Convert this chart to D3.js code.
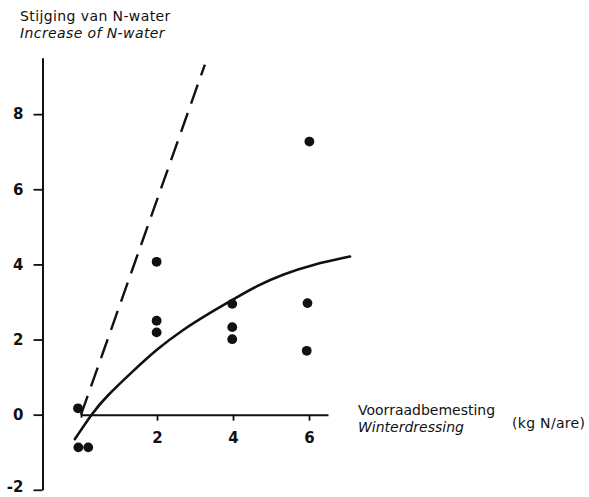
<!DOCTYPE html>
<html>
<head>
<meta charset="utf-8">
<script src="https://cdn.jsdelivr.net/npm/d3@7/dist/d3.min.js"></script>
<style>
  html, body { margin: 0; padding: 0; background: #fff; }
  svg { display: block; }
  text { font-family: "DejaVu Sans", sans-serif; fill: #111; }
</style>
</head>
<body>
<svg id="chart" width="589" height="497"></svg>
<script>
// ---- data ----
const pointX = [-0.08, 0.19, -0.07, 1.99, 1.99, 1.99, 3.98, 3.98, 3.98, 6.01, 5.96, 5.94];
const pointY = [0.17, -0.87, -0.87, 4.07, 2.50, 2.19, 2.95, 2.33, 2.01, 7.27, 2.97, 1.70];

const curveX = [-0.16, 0.30, 0.67, 1.38, 1.99, 2.69, 3.39, 4.01, 4.62, 5.32, 6.11, 7.08];
const curveY = [-0.65, 0.05, 0.49, 1.17, 1.74, 2.27, 2.71, 3.07, 3.43, 3.74, 4.00, 4.21];

const dashX = [0.00, 3.26];
const dashY = [0.00, 9.32];

const xTicks = [0, 2, 4, 6];
const xTickLabels = ["", "2", "4", "6"];
const yTicks = [-2, 0, 2, 4, 6, 8];

const yTitle = ["Stijging van N-water", "Increase of N-water"];
const xTitle = ["Voorraadbemesting", "Winterdressing"];
const xUnit = "(kg N/are)";

// ---- layout ----
const svg = d3.select("#chart");
const x = d3.scaleLinear().domain([0, 6.5]).range([81, 328]);
const y = d3.scaleLinear().domain([-2, 9.5]).range([489.8, 57.8]);
const numFont = "'Liberation Sans Narrow', 'DejaVu Sans Condensed', sans-serif";

// y axis
const yAxis = d3.axisLeft(y).tickValues(yTicks).tickSize(9).tickSizeOuter(0).tickPadding(10)
  .tickFormat(d => d < 0 ? "-" + Math.abs(d) : String(d));
const gy = svg.append("g").attr("transform", "translate(42.5,0)").call(yAxis);
gy.select(".domain").attr("stroke", "#111").attr("stroke-width", 2);
gy.selectAll(".tick line").attr("stroke", "#111").attr("stroke-width", 1.8);
gy.selectAll(".tick text").attr("font-size", 15).attr("font-weight", 700)
  .attr("font-family", numFont).attr("fill", "#111");
gy.selectAll(".tick").filter(d => d === -2).select("text").attr("dy", "0.1em");

// x axis
const xAxis = d3.axisBottom(x).tickValues(xTicks).tickFormat((d, i) => xTickLabels[i])
  .tickSize(6).tickSizeOuter(0).tickPadding(12);
const gx = svg.append("g").attr("transform", `translate(0,${y(0)})`).call(xAxis);
gx.select(".domain").attr("stroke", "#111").attr("stroke-width", 2);
gx.selectAll(".tick line").attr("stroke", "#111").attr("stroke-width", 1.8);
gx.selectAll(".tick").filter(d => d === 0).select("line").attr("y1", -5).attr("y2", 3);
gx.selectAll(".tick text").attr("font-size", 15).attr("font-weight", 700)
  .attr("font-family", numFont).attr("fill", "#111");

// dashed line
const line = d3.line().x(d => x(d[0])).y(d => y(d[1]));
svg.append("path")
  .attr("d", line(d3.zip(dashX, dashY)))
  .attr("fill", "none").attr("stroke", "#111").attr("stroke-width", 2.4)
  .attr("stroke-dasharray", "20,10");

// fitted curve
const smooth = d3.line().x(d => x(d[0])).y(d => y(d[1])).curve(d3.curveBasis);
svg.append("path")
  .attr("d", smooth(d3.zip(curveX, curveY)))
  .attr("fill", "none").attr("stroke", "#111").attr("stroke-width", 2.6)
  .attr("stroke-linecap", "round");

// points
svg.append("g").selectAll("circle")
  .data(d3.zip(pointX, pointY))
  .join("circle")
  .attr("cx", d => x(d[0])).attr("cy", d => y(d[1])).attr("r", 4.9)
  .attr("fill", "#111");

// titles
svg.append("text").attr("x", 20).attr("y", 21).attr("font-size", 14).attr("letter-spacing", 0.4).text(yTitle[0]);
svg.append("text").attr("x", 20).attr("y", 38).attr("font-size", 14).attr("letter-spacing", 0.4).attr("font-style", "italic").text(yTitle[1]);
svg.append("text").attr("x", 358).attr("y", 415).attr("font-size", 14).text(xTitle[0]);
svg.append("text").attr("x", 358).attr("y", 432).attr("font-size", 14).attr("font-style", "italic").text(xTitle[1]);
svg.append("text").attr("x", 512).attr("y", 428).attr("font-size", 14).attr("letter-spacing", 0.3).text(xUnit);
</script>
</body>
</html>
